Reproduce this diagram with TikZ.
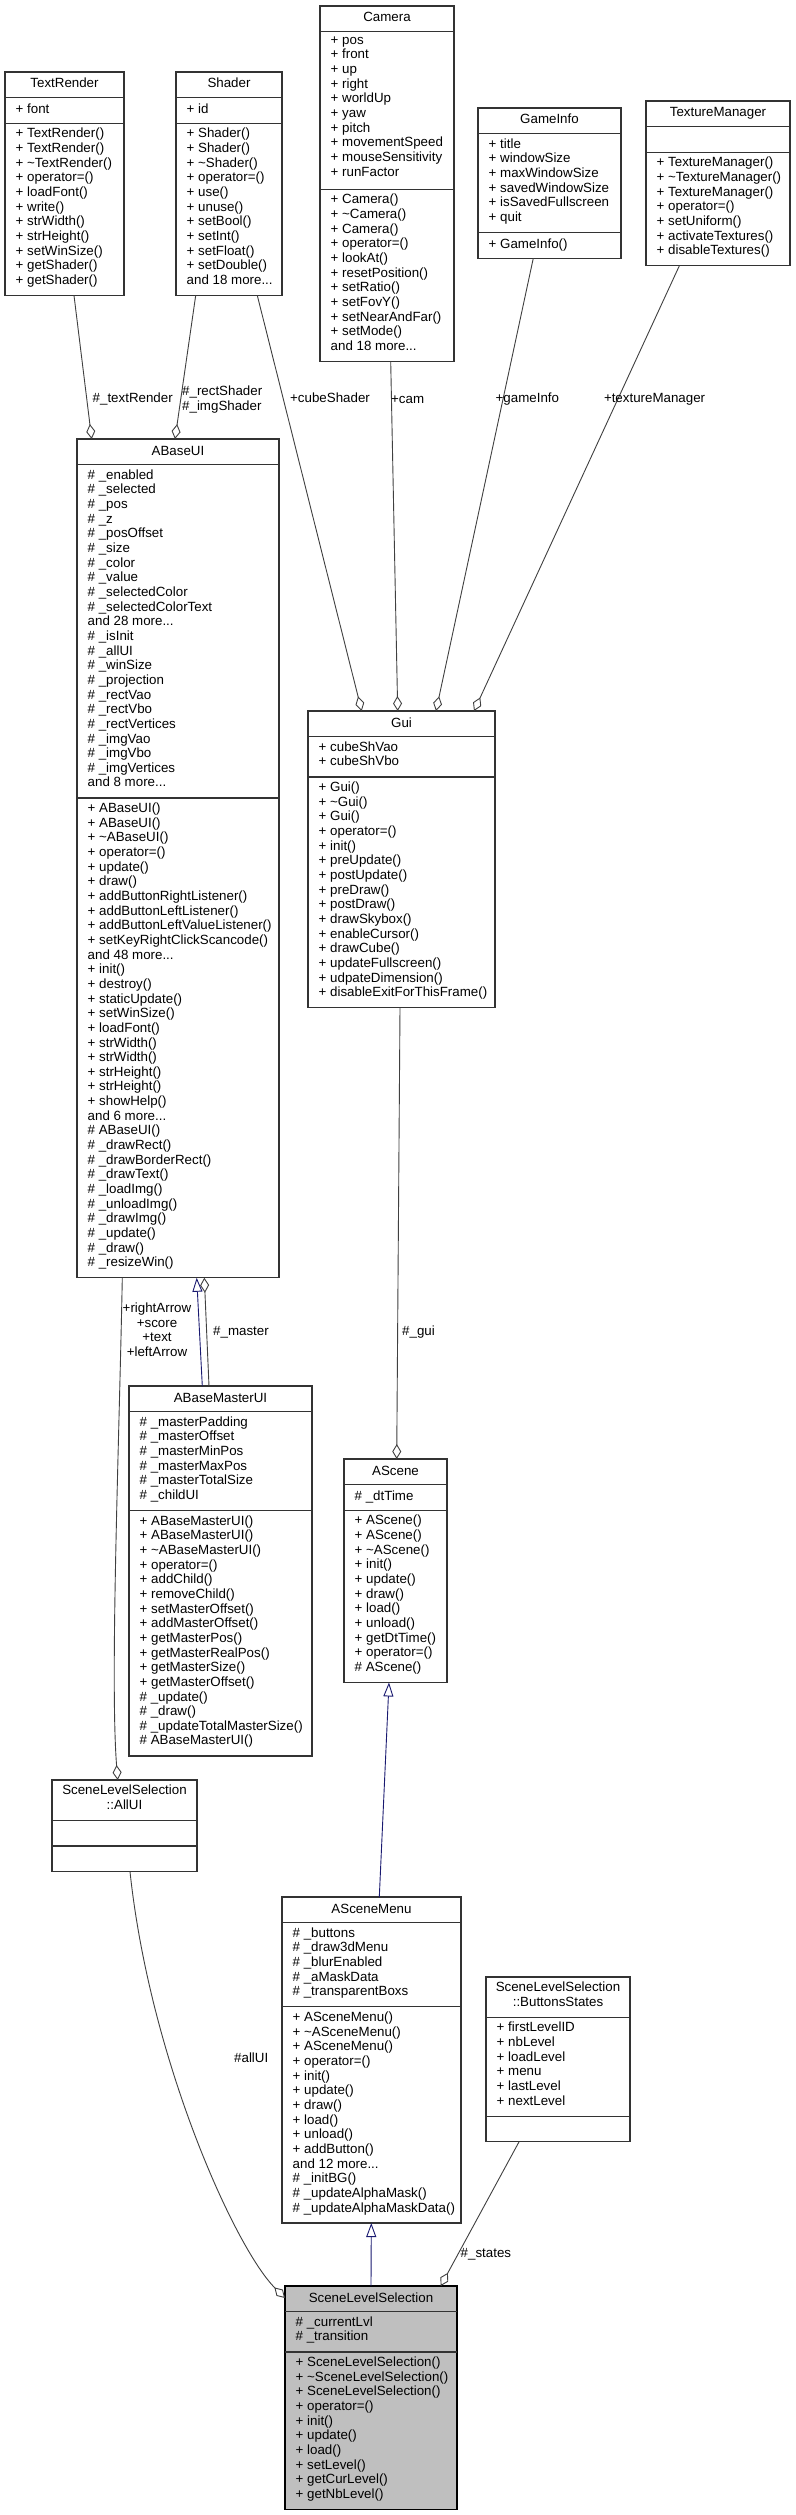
\documentclass[tikz,border=0pt]{standalone}
\usepackage{fontspec}
\setmainfont{Liberation Sans}
\usetikzlibrary{arrows.meta,calc}
\definecolor{edgegray}{HTML}{404040}
\definecolor{midblue}{HTML}{191970}
\definecolor{boxline}{HTML}{333333}
\definecolor{mainfill}{HTML}{BFBFBF}
\def\umlL{14.65}
\def\umlP{11}
\def\umlB{4.8}
\def\umlparse#1,#2,#3\relax{\def\umlnT{#1}\def\umlnA{#2}\def\umlnM{#3}}
\tikzset{
  classbox/.style={draw=boxline, line width=1.1pt, rectangle, inner sep=0pt, outer sep=0pt},
  sepline/.style={draw=boxline, line width=1.1pt},
  ttext/.style={font=\fontsize{13.33}{14.65}\selectfont, align=center, inner sep=0pt, execute at begin node={\rule{0pt}{11pt}}},
  mtext/.style={font=\fontsize{13.33}{14.65}\selectfont, align=left, inner sep=0pt, execute at begin node={\rule{0pt}{11pt}}},
  elabel/.style={font=\fontsize{13.33}{14.65}\selectfont, align=left, inner sep=0pt, execute at begin node={\rule{0pt}{11pt}}},
  elabelc/.style={font=\fontsize{13.33}{14.65}\selectfont, align=center, inner sep=0pt, execute at begin node={\rule{0pt}{11pt}}},
  usage/.style={draw=edgegray, line width=0.9pt},
  inherit/.style={draw=midblue, line width=0.9pt},
  aggstart/.style={arrows={Diamond[length=15pt, width=9pt, fill=white]-}},
  inhstart/.style={arrows={Triangle[length=14pt, width=10pt, fill=white]-}}
}
\newcommand\umlclass[9]{%
  \umlparse#5\relax
  \pgfmathsetmacro\umlhT{\umlnT*\umlL+\umlP}%
  \pgfmathsetmacro\umlhA{max(\umlnA,1)*\umlL+\umlP}%
  \pgfmathsetmacro\umlhM{max(\umlnM,1)*\umlL+\umlP}%
  \pgfmathsetmacro\umlhTot{\umlhT+\umlhA+\umlhM}%
  \pgfmathsetmacro\umlyA{\umlhT}%
  \pgfmathsetmacro\umlyM{\umlhT+\umlhA}%
  \pgfmathsetmacro\umlhalf{#4/2}%
  \node[classbox, #9, minimum width=#4pt, minimum height=\umlhTot pt, anchor=north west] (#1) at (#2,#3) {};
  \draw[sepline] ([yshift=-\umlyA pt]#1.north west) -- ([yshift=-\umlyA pt]#1.north east);
  \draw[sepline] ([yshift=-\umlyM pt]#1.north west) -- ([yshift=-\umlyM pt]#1.north east);
  \node[ttext, anchor=north] (#1-t) at ([xshift=\umlhalf pt, yshift=-\umlB pt]#1.north west) {#6};
  \node[mtext, anchor=north west] (#1-a) at ([xshift=10.5pt, yshift=-\umlyA pt-\umlB pt]#1.north west) {#7};
  \node[mtext, anchor=north west] (#1-m) at ([xshift=10.5pt, yshift=-\umlyM pt-\umlB pt]#1.north west) {#8};
}
\begin{document}
\begin{tikzpicture}[x=1pt, y=-1pt]
\useasboundingbox (0,0) rectangle (795,2515);
\fill[white] (0,0) rectangle (795,2515);

\umlclass{textrender}{5}{72}{119}{1,1,11}{TextRender}{+ font}{+ TextRender()\\+ TextRender()\\+ \textasciitilde TextRender()\\+ operator=()\\+ loadFont()\\+ write()\\+ strWidth()\\+ strHeight()\\+ setWinSize()\\+ getShader()\\+ getShader()}{fill=white}

\umlclass{shader}{176}{72}{106}{1,1,11}{Shader}{+ id}{+ Shader()\\+ Shader()\\+ \textasciitilde Shader()\\+ operator=()\\+ use()\\+ unuse()\\+ setBool()\\+ setInt()\\+ setFloat()\\+ setDouble()\\and 18 more...}{fill=white}

\umlclass{camera}{320}{6}{134}{1,10,11}{Camera}{+ pos\\+ front\\+ up\\+ right\\+ worldUp\\+ yaw\\+ pitch\\+ movementSpeed\\+ mouseSensitivity\\+ runFactor}{+ Camera()\\+ \textasciitilde Camera()\\+ Camera()\\+ operator=()\\+ lookAt()\\+ resetPosition()\\+ setRatio()\\+ setFovY()\\+ setNearAndFar()\\+ setMode()\\and 18 more...}{fill=white}

\umlclass{gameinfo}{478}{108}{143}{1,6,1}{GameInfo}{+ title\\+ windowSize\\+ maxWindowSize\\+ savedWindowSize\\+ isSavedFullscreen\\+ quit}{+ GameInfo()}{fill=white}

\umlclass{texmgr}{646}{101}{144}{1,0,7}{TextureManager}{}{+ TextureManager()\\+ \textasciitilde TextureManager()\\+ TextureManager()\\+ operator=()\\+ setUniform()\\+ activateTextures()\\+ disableTextures()}{fill=white}

\umlclass{abaseui}{77}{439}{202}{1,22,32}{ABaseUI}{\# \_enabled\\\# \_selected\\\# \_pos\\\# \_z\\\# \_posOffset\\\# \_size\\\# \_color\\\# \_value\\\# \_selectedColor\\\# \_selectedColorText\\and 28 more...\\\# \_isInit\\\# \_allUI\\\# \_winSize\\\# \_projection\\\# \_rectVao\\\# \_rectVbo\\\# \_rectVertices\\\# \_imgVao\\\# \_imgVbo\\\# \_imgVertices\\and 8 more...}{+ ABaseUI()\\+ ABaseUI()\\+ \textasciitilde ABaseUI()\\+ operator=()\\+ update()\\+ draw()\\+ addButtonRightListener()\\+ addButtonLeftListener()\\+ addButtonLeftValueListener()\\+ setKeyRightClickScancode()\\and 48 more...\\+ init()\\+ destroy()\\+ staticUpdate()\\+ setWinSize()\\+ loadFont()\\+ strWidth()\\+ strWidth()\\+ strHeight()\\+ strHeight()\\+ showHelp()\\and 6 more...\\\# ABaseUI()\\\# \_drawRect()\\\# \_drawBorderRect()\\\# \_drawText()\\\# \_loadImg()\\\# \_unloadImg()\\\# \_drawImg()\\\# \_update()\\\# \_draw()\\\# \_resizeWin()}{fill=white}

\umlclass{gui}{308}{711}{187}{1,2,15}{Gui}{+ cubeShVao\\+ cubeShVbo}{+ Gui()\\+ \textasciitilde Gui()\\+ Gui()\\+ operator=()\\+ init()\\+ preUpdate()\\+ postUpdate()\\+ preDraw()\\+ postDraw()\\+ drawSkybox()\\+ enableCursor()\\+ drawCube()\\+ updateFullscreen()\\+ udpateDimension()\\+ disableExitForThisFrame()}{fill=white}

\umlclass{masterui}{129}{1386}{183}{1,6,16}{ABaseMasterUI}{\# \_masterPadding\\\# \_masterOffset\\\# \_masterMinPos\\\# \_masterMaxPos\\\# \_masterTotalSize\\\# \_childUI}{+ ABaseMasterUI()\\+ ABaseMasterUI()\\+ \textasciitilde ABaseMasterUI()\\+ operator=()\\+ addChild()\\+ removeChild()\\+ setMasterOffset()\\+ addMasterOffset()\\+ getMasterPos()\\+ getMasterRealPos()\\+ getMasterSize()\\+ getMasterOffset()\\\# \_update()\\\# \_draw()\\\# \_updateTotalMasterSize()\\\# ABaseMasterUI()}{fill=white}

\umlclass{ascene}{344}{1459}{103}{1,1,11}{AScene}{\# \_dtTime}{+ AScene()\\+ AScene()\\+ \textasciitilde AScene()\\+ init()\\+ update()\\+ draw()\\+ load()\\+ unload()\\+ getDtTime()\\+ operator=()\\\# AScene()}{fill=white}

\umlclass{allui}{52}{1780}{145}{2,0,0}{SceneLevelSelection\\::AllUI}{}{}{fill=white}

\umlclass{scenemenu}{282}{1897}{179}{1,5,14}{ASceneMenu}{\# \_buttons\\\# \_draw3dMenu\\\# \_blurEnabled\\\# \_aMaskData\\\# \_transparentBoxs}{+ ASceneMenu()\\+ \textasciitilde ASceneMenu()\\+ ASceneMenu()\\+ operator=()\\+ init()\\+ update()\\+ draw()\\+ load()\\+ unload()\\+ addButton()\\and 12 more...\\\# \_initBG()\\\# \_updateAlphaMask()\\\# \_updateAlphaMaskData()}{fill=white}

\umlclass{btnstates}{486}{1977}{144}{2,6,0}{SceneLevelSelection\\::ButtonsStates}{+ firstLevelID\\+ nbLevel\\+ loadLevel\\+ menu\\+ lastLevel\\+ nextLevel}{}{fill=white}

\umlclass{sls}{285}{2286}{172}{1,2,10}{SceneLevelSelection}{\# \_currentLvl\\\# \_transition}{+ SceneLevelSelection()\\+ \textasciitilde SceneLevelSelection()\\+ SceneLevelSelection()\\+ operator=()\\+ init()\\+ update()\\+ load()\\+ setLevel()\\+ getCurLevel()\\+ getNbLevel()}{fill=mainfill, draw=black}

% connectors
\draw[usage, aggstart] ([xshift=14.7pt]abaseui.north west) -- ([xshift=69pt]textrender.south west);
\draw[usage, aggstart] ([xshift=98pt]abaseui.north west) -- ([xshift=19.7pt]shader.south west);
\draw[usage, aggstart] ([xshift=53.7pt]gui.north west) -- ([xshift=81.3pt]shader.south west);
\draw[usage, aggstart] ([xshift=89.7pt]gui.north west) -- ([xshift=70.7pt]camera.south west);
\draw[usage, aggstart] ([xshift=128pt]gui.north west) -- ([xshift=55.3pt]gameinfo.south west);
\draw[usage, aggstart] ([xshift=166pt]gui.north west) -- ([xshift=33.3pt]texmgr.south west);
\draw[inherit, inhstart] ([xshift=119.7pt]abaseui.south west) -- ([xshift=73.3pt]masterui.north west);
\draw[usage, aggstart] ([xshift=127.3pt]abaseui.south west) -- ([xshift=80pt]masterui.north west);
\draw[usage, aggstart] ([xshift=65.7pt]allui.north west) .. controls (110,1680) and (119,1450) .. ([xshift=45.3pt]abaseui.south west);
\draw[usage, aggstart] ([xshift=52.7pt]ascene.north west) -- ([xshift=92pt]gui.south west);
\draw[inherit, inhstart] ([xshift=45pt]ascene.south west) -- ([xshift=97.3pt]scenemenu.north west);
\draw[inherit, inhstart] ([xshift=89.3pt]scenemenu.south west) -- ([xshift=86pt]sls.north west);
\draw[usage, aggstart] ([yshift=-12pt]sls.north west) .. controls (235,2248) and (150,2060) .. ([xshift=78pt]allui.south west);
\draw[usage, aggstart] ([xshift=155.7pt]sls.north west) -- ([xshift=33pt]btnstates.south west);

% connector labels
\node[elabel, anchor=north west] (l-textrender) at (92.5,391.6) {\#\_textRender};
\node[elabel, anchor=north west] (l-shader) at (182,385.6) {\#\_rectShader\\\#\_imgShader};
\node[elabel, anchor=north west] (l-cube) at (290,391.6) {+cubeShader};
\node[elabel, anchor=north west] (l-cam) at (391,391.9) {+cam};
\node[elabel, anchor=north west] (l-gameinfo) at (495.5,391.6) {+gameInfo};
\node[elabel, anchor=north west] (l-texmgr) at (603.8,391.6) {+textureManager};
\node[elabelc, anchor=north] (l-arrows) at (157,1302.6) {+rightArrow\\+score\\+text\\+leftArrow};
\node[elabel, anchor=north west] (l-master) at (213,1324.3) {\#\_master};
\node[elabel, anchor=north west] (l-gui) at (402,1324.3) {\#\_gui};
\node[elabel, anchor=north west] (l-allui) at (234,2051.3) {\#allUI};
\node[elabel, anchor=north west] (l-states) at (460.5,2246.3) {\#\_states};
\end{tikzpicture}
\end{document}
